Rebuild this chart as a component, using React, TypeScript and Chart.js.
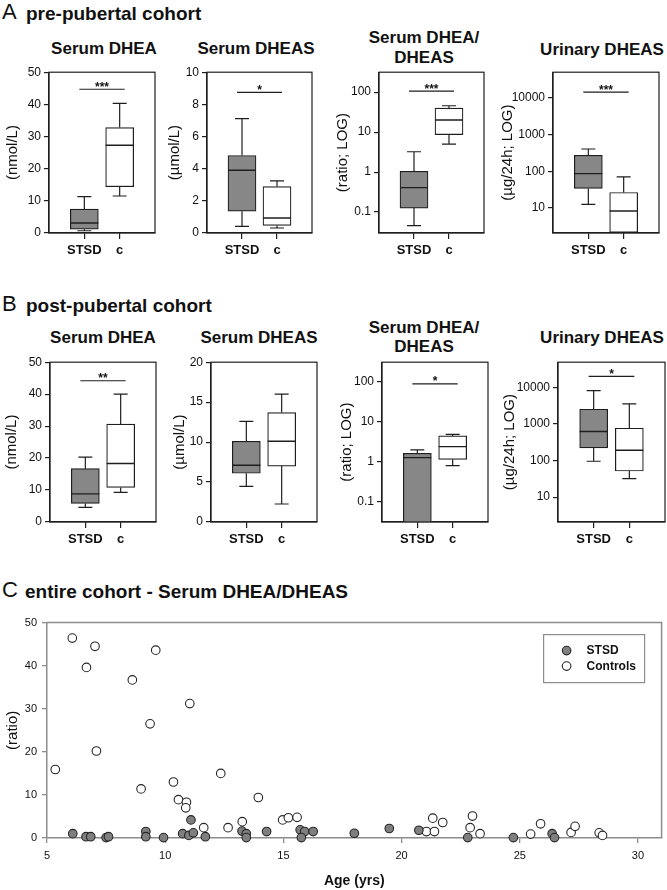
import React, { useEffect, useRef } from 'react';
import { Chart, registerables } from 'chart.js';

Chart.register(...registerables);

const FONT = '"Liberation Sans", Arial, Helvetica, sans-serif';
const LINE = '#1e1e1e';
const STSD_FILL = '#878787';
const AXIS_GRAY = '#8c8c8c';

// ---------------- data ----------------
const groups = ['STSD', 'c'];

// box statistics: [lower whisker, Q1, median, Q3, upper whisker]
const preDheaStsd = [0.7, 1.2, 3.1, 7.4, 11.3];
const preDheaCtrl = [11.5, 14.4, 27.3, 32.8, 40.3];
const preDheasStsd = [0.41, 1.36, 3.9, 4.82, 7.11];
const preDheasCtrl = [0.31, 0.47, 0.93, 2.89, 3.24];
const preRatioStsd = [0.046, 0.126, 0.41, 1.05, 3.23];
const preRatioCtrl = [5.0, 8.7, 20.1, 40, 45.7];
const preUrineStsd = [12.6, 34.2, 87, 274, 406];
const preUrineCtrl = [1.0, 2.2, 8.3, 26.6, 70.8];

const postDheaStsd = [4.6, 5.8, 8.8, 16.7, 20.3];
const postDheaCtrl = [9.3, 10.8, 18.3, 30.6, 40];
const postDheasStsd = [4.45, 6.1, 7.1, 10.1, 12.6];
const postDheasCtrl = [2.25, 7.0, 10.1, 13.7, 16.0];
const postRatioStsd = [0.005, 0.01, 1.26, 1.61, 1.96];
const postRatioCtrl = [0.79, 1.14, 2.37, 4.38, 4.8];
const postUrineStsd = [96, 222, 624, 2550, 8270];
const postUrineCtrl = [32, 52, 192, 770, 3570];

// significance bars (height in data units, label)
const preSigY = [44.7, 8.75, 106, 14300];
const preSigText = ['***', '*', '***', '***'];
const postSigY = [44.2, null, 87.6, 20100];
const postSigText = ['**', '', '*', '*'];

// tick labels
const ticks0to50 = [0, 10, 20, 30, 40, 50];
const ticks0to10 = [0, 2, 4, 6, 8, 10];
const ticks0to20 = [0, 5, 10, 15, 20];
const ratioLogTicks = [0.1, 1, 10, 100];
const urineLogTicks = [10, 100, 1000, 10000];

// scatter: entire cohort serum DHEA/DHEAS vs age
const stsdAge = [6.09, 6.65, 6.85, 7.5, 7.6, 9.18, 9.18, 9.93, 10.74, 11.09, 11.0, 11.19, 11.7, 13.25, 13.43, 13.43, 14.29, 15.71, 15.9, 15.76, 16.26, 18.0, 19.48, 20.73, 22.8, 24.73, 26.37, 26.47];
const stsdRatio = [1.0, 0.3, 0.3, 0.1, 0.3, 1.5, 0.3, 0.1, 1.0, 4.2, 0.6, 1.2, 0.3, 1.6, 1.0, 0.1, 1.5, 1.9, 1.5, 0.1, 1.5, 1.1, 2.2, 1.8, 0.1, 0.1, 1.0, 0.1];
const ctrlAge = [5.35, 6.07, 6.67, 7.03, 7.09, 8.61, 8.98, 9.36, 9.6, 10.35, 10.56, 10.9, 10.87, 11.04, 11.63, 12.35, 12.66, 13.26, 13.94, 14.97, 15.21, 15.58, 21.05, 21.32, 21.39, 21.74, 22.9, 23.0, 23.32, 25.46, 25.88, 27.17, 27.34, 28.36, 28.5];
const ctrlRatio = [15.9, 46.4, 39.6, 44.5, 20.2, 36.7, 11.4, 26.5, 43.6, 13.0, 8.9, 8.3, 7.0, 31.2, 2.4, 15.0, 2.4, 3.8, 9.4, 4.2, 4.7, 4.8, 1.5, 4.6, 1.5, 3.6, 2.4, 5.1, 1.0, 0.9, 3.3, 1.3, 2.7, 1.2, 0.6];
const ageTicks = [5, 10, 15, 20, 25, 30];
const scatterRatioTicks = [0, 10, 20, 30, 40, 50];
const seriesNames = ['STSD', 'Controls'];

// ---------------- layout ----------------
const PT = 10; // top padding
const PR = 4; // right padding
const XH = 28; // x axis height
const BOXW = 28;
const CAP = 14;

type Area = { L: number; R: number; T: number; B: number };
type Spec = {
  key: string;
  title: string[];
  titleX: number;
  titleBase: number[];
  yTitle: string;
  yType: 'linear' | 'logarithmic';
  yMin: number;
  yMax: number;
  yTicks: number[];
  stats: number[][];
  sigY: number | null;
  sigText: string;
  area: Area;
  yw: number;
};

const panels: Spec[] = [
  { key: 'a1', title: ['Serum DHEA'], titleX: 104, titleBase: [54], yTitle: '(nmol/L)', yType: 'linear', yMin: 0, yMax: 50, yTicks: ticks0to50, stats: [preDheaStsd, preDheaCtrl], sigY: preSigY[0], sigText: preSigText[0], area: { L: 49, R: 155, T: 72, B: 233 }, yw: 49 },
  { key: 'a2', title: ['Serum DHEAS'], titleX: 256, titleBase: [54], yTitle: '(µmol/L)', yType: 'linear', yMin: 0, yMax: 10, yTicks: ticks0to10, stats: [preDheasStsd, preDheasCtrl], sigY: preSigY[1], sigText: preSigText[1], area: { L: 207, R: 312, T: 72, B: 233 }, yw: 45 },
  { key: 'a3', title: ['Serum DHEA/', 'DHEAS'], titleX: 424, titleBase: [43, 63], yTitle: '(ratio; LOG)', yType: 'logarithmic', yMin: 0.03, yMax: 316, yTicks: ratioLogTicks, stats: [preRatioStsd, preRatioCtrl], sigY: preSigY[2], sigText: preSigText[2], area: { L: 379, R: 484, T: 72, B: 233 }, yw: 49 },
  { key: 'a4', title: ['Urinary DHEAS'], titleX: 602, titleBase: [55], yTitle: '(µg/24h; LOG)', yType: 'logarithmic', yMin: 2.1, yMax: 50000, yTicks: urineLogTicks, stats: [preUrineStsd, preUrineCtrl], sigY: preSigY[3], sigText: preSigText[3], area: { L: 553, R: 659, T: 72, B: 233 }, yw: 58 },
  { key: 'b1', title: ['Serum DHEA'], titleX: 103, titleBase: [343], yTitle: '(nmol/L)', yType: 'linear', yMin: 0, yMax: 50, yTicks: ticks0to50, stats: [postDheaStsd, postDheaCtrl], sigY: postSigY[0], sigText: postSigText[0], area: { L: 50, R: 156, T: 362, B: 522 }, yw: 51 },
  { key: 'b2', title: ['Serum DHEAS'], titleX: 259, titleBase: [343], yTitle: '(µmol/L)', yType: 'linear', yMin: 0, yMax: 20, yTicks: ticks0to20, stats: [postDheasStsd, postDheasCtrl], sigY: postSigY[1], sigText: postSigText[1], area: { L: 211, R: 317, T: 362, B: 522 }, yw: 44 },
  { key: 'b3', title: ['Serum DHEA/', 'DHEAS'], titleX: 424, titleBase: [333, 352], yTitle: '(ratio; LOG)', yType: 'logarithmic', yMin: 0.031, yMax: 304, yTicks: ratioLogTicks, stats: [postRatioStsd, postRatioCtrl], sigY: postSigY[2], sigText: postSigText[2], area: { L: 382, R: 488, T: 362, B: 522 }, yw: 48 },
  { key: 'b4', title: ['Urinary DHEAS'], titleX: 602, titleBase: [343], yTitle: '(µg/24h; LOG)', yType: 'logarithmic', yMin: 2.09, yMax: 49400, yTicks: urineLogTicks, stats: [postUrineStsd, postUrineCtrl], sigY: postSigY[3], sigText: postSigText[3], area: { L: 558, R: 665, T: 362, B: 522 }, yw: 61 },
];

// ---------------- plugins ----------------
const boxPlugin = {
  id: 'boxDecor',
  afterDraw(chart: any, _args: any, opts: any) {
    const stats: number[][] = opts.stats;
    if (!stats) return;
    const { ctx, chartArea: a } = chart;
    const xs = chart.scales.x;
    const ys = chart.scales.y;
    ctx.save();
    ctx.beginPath();
    ctx.rect(a.left, a.top, a.right - a.left, a.bottom - a.top);
    ctx.clip();
    ctx.strokeStyle = LINE;
    ctx.lineWidth = 1.2;
    stats.forEach((s, i) => {
      const cx = xs.getPixelForValue(i);
      const p = s.map((v) => ys.getPixelForValue(v));
      ctx.beginPath();
      ctx.moveTo(cx, p[3]);
      ctx.lineTo(cx, p[4]);
      ctx.moveTo(cx - CAP / 2, p[4]);
      ctx.lineTo(cx + CAP / 2, p[4]);
      ctx.moveTo(cx, p[1]);
      ctx.lineTo(cx, p[0]);
      ctx.moveTo(cx - CAP / 2, p[0]);
      ctx.lineTo(cx + CAP / 2, p[0]);
      ctx.stroke();
      ctx.beginPath();
      ctx.lineWidth = 1.4;
      ctx.moveTo(cx - BOXW / 2, p[2]);
      ctx.lineTo(cx + BOXW / 2, p[2]);
      ctx.stroke();
      ctx.lineWidth = 1.2;
    });
    ctx.restore();

    ctx.save();
    ctx.strokeStyle = LINE;
    ctx.lineWidth = 1.2;
    ctx.strokeRect(a.left, a.top, a.right - a.left, a.bottom - a.top);
    if (opts.sigY != null && opts.sigText) {
      const y = ys.getPixelForValue(opts.sigY);
      const x0 = xs.getPixelForValue(0) - 5;
      const x1 = xs.getPixelForValue(1) + 5;
      ctx.beginPath();
      ctx.moveTo(x0, y);
      ctx.lineTo(x1, y);
      ctx.stroke();
      ctx.font = `bold 12px ${FONT}`;
      ctx.textAlign = 'center';
      ctx.textBaseline = 'alphabetic';
      ctx.fillStyle = '#111';
      ctx.fillText(opts.sigText, (x0 + x1) / 2, y + 1.5);
    }
    ctx.restore();
  },
};

const scatterDecor = {
  id: 'scatterDecor',
  afterDraw(chart: any) {
    const { ctx, chartArea: a } = chart;
    ctx.save();
    ctx.strokeStyle = AXIS_GRAY;
    ctx.lineWidth = 1.5;
    ctx.beginPath();
    ctx.moveTo(a.left, a.top);
    ctx.lineTo(a.right, a.top);
    ctx.lineTo(a.right, a.bottom);
    ctx.stroke();

    // legend box
    const lx = a.right - 118;
    const ly = a.top + 12;
    ctx.lineWidth = 1.2;
    ctx.strokeRect(lx, ly, 101, 48);
    const ds = chart.data.datasets;
    ds.forEach((d: any, i: number) => {
      const my = ly + 16 + i * 15.5;
      ctx.beginPath();
      ctx.arc(lx + 23, my, 4.3, 0, Math.PI * 2);
      ctx.fillStyle = d.pointBackgroundColor;
      ctx.fill();
      ctx.strokeStyle = d.pointBorderColor;
      ctx.lineWidth = 1.1;
      ctx.stroke();
      ctx.fillStyle = '#111';
      ctx.font = `bold 12px ${FONT}`;
      ctx.textAlign = 'left';
      ctx.textBaseline = 'middle';
      ctx.fillText(d.label, lx + 43, my + 0.5);
    });
    ctx.restore();
  },
};

// ---------------- components ----------------
function BoxPanel({ spec }: { spec: Spec }) {
  const ref = useRef<HTMLCanvasElement>(null);
  const { area, yw } = spec;
  const w = yw + (area.R - area.L) + PR;
  const h = PT + (area.B - area.T) + XH;
  useEffect(() => {
    const chart = new Chart(ref.current as HTMLCanvasElement, {
      type: 'bar',
      data: {
        datasets: [
          {
            data: spec.stats.map((s, i) => ({ x: i, y: [s[1], s[3]] })) as any,
            backgroundColor: [STSD_FILL, '#ffffff'],
            borderColor: LINE,
            borderWidth: 1.2,
            borderSkipped: false,
            barThickness: BOXW,
            clip: 0,
          } as any,
        ],
      },
      options: {
        responsive: false,
        animation: false,
        events: [],
        layout: { padding: { top: PT, right: PR, left: 0, bottom: 0 } },
        plugins: {
          legend: { display: false },
          tooltip: { enabled: false },
          boxDecor: { stats: spec.stats, sigY: spec.sigY, sigText: spec.sigText },
        } as any,
        scales: {
          x: {
            type: 'linear',
            min: -1,
            max: 2,
            offset: false,
            afterBuildTicks: (s: any) => {
              s.ticks = groups.map((_, i) => ({ value: i }));
            },
            afterFit: (s: any) => {
              s.height = XH;
            },
            ticks: {
              callback: (_v: any, i: number) => groups[i],
              font: { family: FONT, size: 13, weight: 'bold' },
              color: '#111',
              padding: 4,
              maxRotation: 0,
              autoSkip: false,
            },
            grid: { drawOnChartArea: false, offset: false, tickLength: 6, color: LINE, lineWidth: 1.2 },
            border: { color: LINE, width: 1.2 },
          } as any,
          y: {
            type: spec.yType,
            min: spec.yMin,
            max: spec.yMax,
            afterBuildTicks: (s: any) => {
              s.ticks = spec.yTicks.map((v) => ({ value: v }));
            },
            afterFit: (s: any) => {
              s.width = yw;
            },
            ticks: {
              callback: (v: any) => String(v),
              font: { family: FONT, size: 12 },
              color: '#111',
              padding: 3,
              autoSkip: false,
            },
            grid: { drawOnChartArea: false, tickLength: 5, color: LINE, lineWidth: 1.2 },
            border: { color: LINE, width: 1.2 },
            title: {
              display: true,
              text: spec.yTitle,
              font: { family: FONT, size: 15 },
              color: '#111',
              padding: { top: 4, bottom: 0 },
            },
          } as any,
        },
      },
      plugins: [boxPlugin],
    });
    return () => chart.destroy();
  }, []);
  return (
    <canvas
      ref={ref}
      width={w}
      height={h}
      style={{ position: 'absolute', left: area.L - yw, top: area.T - PT, width: w, height: h }}
    />
  );
}

function ScatterPanel() {
  const ref = useRef<HTMLCanvasElement>(null);
  const area = { L: 47, R: 665, T: 621, B: 838 };
  const yw = 47;
  const xh = 52;
  const top = area.T - PT;
  const w = 667;
  const h = 890 - top;
  useEffect(() => {
    const chart = new Chart(ref.current as HTMLCanvasElement, {
      type: 'scatter',
      data: {
        datasets: [
          {
            label: seriesNames[0],
            data: stsdAge.map((a, i) => ({ x: a, y: stsdRatio[i] })),
            pointRadius: 4.3,
            pointBackgroundColor: '#7f7f7f',
            pointBorderColor: '#262626',
            pointBorderWidth: 1.1,
            clip: false,
          } as any,
          {
            label: seriesNames[1],
            data: ctrlAge.map((a, i) => ({ x: a, y: ctrlRatio[i] })),
            pointRadius: 4.3,
            pointBackgroundColor: '#ffffff',
            pointBorderColor: '#262626',
            pointBorderWidth: 1.1,
            clip: false,
          } as any,
        ],
      },
      options: {
        responsive: false,
        animation: false,
        events: [],
        layout: { padding: { top: PT, right: w - area.R, left: 0, bottom: 0 } },
        plugins: { legend: { display: false }, tooltip: { enabled: false } },
        scales: {
          x: {
            type: 'linear',
            min: 5,
            max: 31,
            afterBuildTicks: (s: any) => {
              s.ticks = ageTicks.map((v) => ({ value: v }));
            },
            afterFit: (s: any) => {
              s.height = xh;
            },
            ticks: { font: { family: FONT, size: 11 }, color: '#111', padding: 6, maxRotation: 0 },
            grid: { drawOnChartArea: false, tickLength: 5, color: AXIS_GRAY, lineWidth: 1.3 },
            border: { color: AXIS_GRAY, width: 1.5 },
            title: {
              display: true,
              text: 'Age (yrs)',
              font: { family: FONT, size: 14, weight: 'bold' },
              color: '#111',
              padding: { top: 0, bottom: 0 },
            },
          } as any,
          y: {
            type: 'linear',
            min: 0,
            max: 50,
            afterBuildTicks: (s: any) => {
              s.ticks = scatterRatioTicks.map((v) => ({ value: v }));
            },
            afterFit: (s: any) => {
              s.width = yw;
            },
            ticks: { font: { family: FONT, size: 11 }, color: '#111', padding: 5 },
            grid: { drawOnChartArea: false, tickLength: 5, color: AXIS_GRAY, lineWidth: 1.3 },
            border: { color: AXIS_GRAY, width: 1.5 },
            title: {
              display: true,
              text: '(ratio)',
              font: { family: FONT, size: 15 },
              color: '#111',
              padding: { top: 4, bottom: 0 },
            },
          } as any,
        },
      },
      plugins: [scatterDecor],
    });
    return () => chart.destroy();
  }, []);
  return (
    <canvas
      ref={ref}
      width={w}
      height={h}
      style={{ position: 'absolute', left: 0, top, width: w, height: h }}
    />
  );
}

function Txt({ x, base, text, size, bold, center }: { x: number; base: number; text: string; size: number; bold?: boolean; center?: boolean }) {
  const style: React.CSSProperties = {
    position: 'absolute',
    top: base - 0.8465 * size,
    fontSize: size,
    lineHeight: `${size}px`,
    fontWeight: bold ? 700 : 400,
    whiteSpace: 'nowrap',
    color: '#111',
    fontFamily: FONT,
  };
  if (center) {
    style.left = x - 150;
    style.width = 300;
    style.textAlign = 'center';
  } else {
    style.left = x;
  }
  return <div style={style}>{text}</div>;
}

export default function App() {
  return (
    <div style={{ position: 'absolute', left: 0, top: 0, width: 667, height: 890, background: '#fff', overflow: 'hidden', fontFamily: FONT }}>
      <Txt x={2} base={20} text="A" size={22} />
      <Txt x={26} base={20} text="pre-pubertal cohort" size={19} bold />
      <Txt x={2} base={312} text="B" size={22} />
      <Txt x={26} base={312} text="post-pubertal cohort" size={19} bold />
      <Txt x={2} base={598} text="C" size={22} />
      <Txt x={25} base={598} text="entire cohort - Serum DHEA/DHEAS" size={19} bold />
      {panels.map((p) =>
        p.title.map((t, i) => <Txt key={p.key + 't' + i} x={p.titleX} base={p.titleBase[i]} text={t} size={17} bold center />)
      )}
      {panels.map((p) => (
        <BoxPanel key={p.key} spec={p} />
      ))}
      <ScatterPanel />
    </div>
  );
}
